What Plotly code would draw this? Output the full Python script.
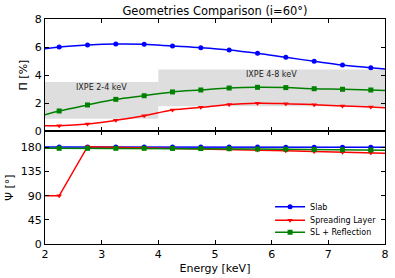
import plotly.graph_objects as go

# ---------------- data ----------------
energy_mid = [2.25, 2.75, 3.25, 3.75, 4.25, 4.75, 5.25, 5.75, 6.25, 6.75, 7.25, 7.75]
energy_edges = [2.0, 8.0]

# polarization degree [%]
slab_pi = [6.00, 6.14, 6.21, 6.19, 6.07, 5.95, 5.79, 5.55, 5.26, 4.98, 4.71, 4.52]
slab_pi_edges = [5.88, 4.43]
sl_pi = [0.38, 0.50, 0.76, 1.09, 1.50, 1.69, 1.90, 1.98, 1.95, 1.88, 1.79, 1.71]
sl_pi_edges = [0.38, 1.66]
slr_pi = [1.43, 1.86, 2.26, 2.52, 2.79, 2.93, 3.07, 3.12, 3.10, 3.02, 2.98, 2.93]
slr_pi_edges = [1.16, 2.90]

# polarization angle [deg]
slab_psi = [181.0, 181.0, 181.0, 181.0, 181.0, 180.9, 180.8, 180.8, 180.7, 180.6, 180.5, 180.5]
slab_psi_edges = [181.0, 180.5]
sl_psi = [90.0, 181.5, 180.5, 180.0, 179.0, 178.0, 177.0, 175.5, 174.0, 172.5, 171.0, 170.0]
sl_psi_edges = [90.0, 169.5]
slr_psi = [178.5, 178.5, 178.5, 178.5, 178.3, 178.0, 177.8, 177.2, 176.8, 176.3, 175.8, 175.3]
slr_psi_edges = [178.5, 175.0]
psi_err = [1.5, 3.0, 2.0, 2.0, 2.0, 2.0, 2.0, 2.5, 2.5, 3.0, 3.0, 3.0]

# IXPE sensitivity bands
band_names = ["IXPE 2-4 keV", "IXPE 4-8 keV"]
band_x0 = [2.0, 4.0]
band_x1 = [4.0, 8.0]
band_lo = [0.87, 1.77]
band_hi = [3.50, 4.40]
band_label_x = [3.0, 6.0]
band_label_y = [3.12, 4.07]

series_names = ["Slab", "Spreading Layer", "SL + Reflection"]
colors = ["#0000ff", "#ff0000", "#008000"]
symbols = ["circle", "triangle-down", "square"]
legend_ids = ["legend", "legend2", "legend3"]

pi_data = [(slab_pi, slab_pi_edges), (sl_pi, sl_pi_edges), (slr_pi, slr_pi_edges)]
psi_data = [(slab_psi, slab_psi_edges), (sl_psi, sl_psi_edges), (slr_psi, slr_psi_edges)]

x_ticks = [2, 3, 4, 5, 6, 7, 8]
pi_ticks = [0, 2, 4, 6, 8]
psi_ticks = [0, 45, 90, 135, 180]

FONT = "DejaVu Sans"

fig = go.Figure()

for name, col, sym, lg, (pv, pe), (sv, se) in zip(series_names, colors, symbols, legend_ids, pi_data, psi_data):
    xfull = [energy_edges[0]] + energy_mid + [energy_edges[1]]
    # top panel smooth curve
    fig.add_trace(go.Scatter(x=xfull, y=[pe[0]] + pv + [pe[1]], mode="lines",
                             line=dict(color=col, width=1.5, shape="spline", smoothing=1.0),
                             xaxis="x", yaxis="y", showlegend=False, hoverinfo="skip"))
    fig.add_trace(go.Scatter(x=energy_mid, y=pv, mode="markers",
                             marker=dict(color=col, symbol=sym, size=5),
                             xaxis="x", yaxis="y", showlegend=False))
    # bottom panel
    fig.add_trace(go.Scatter(x=xfull, y=[se[0]] + sv + [se[1]], mode="lines",
                             line=dict(color=col, width=1.5),
                             xaxis="x2", yaxis="y2", showlegend=False, hoverinfo="skip"))
    fig.add_trace(go.Scatter(x=energy_mid, y=sv, mode="markers",
                             marker=dict(color=col, symbol=sym, size=5),
                             error_y=dict(type="data", array=psi_err, color=col, thickness=1, width=0),
                             xaxis="x2", yaxis="y2", showlegend=False))
    # legend entry
    fig.add_trace(go.Scatter(x=[None], y=[None], mode="lines+markers", name=name,
                             line=dict(color=col, width=1.5),
                             marker=dict(color=col, symbol=sym, size=5),
                             xaxis="x2", yaxis="y2", legend=lg))

shapes = []
for x0, x1, lo, hi in zip(band_x0, band_x1, band_lo, band_hi):
    shapes.append(dict(type="rect", xref="x", yref="y", x0=x0, x1=x1, y0=lo, y1=hi,
                       fillcolor="rgba(200,200,200,0.6)", line=dict(width=0), layer="below"))

annotations = []
for nm, lx, ly in zip(band_names, band_label_x, band_label_y):
    annotations.append(dict(x=lx, y=ly, xref="x", yref="y", text=nm, showarrow=False,
                            font=dict(family=FONT, size=8, color="#222")))

split = 113 / 225

axis_common = dict(showgrid=False, zeroline=False, showline=True, linecolor="black", linewidth=1,
                   mirror="ticks", ticks="inside", ticklen=4, tickcolor="black", automargin=False,
                   tickfont=dict(family=FONT, size=11, color="black"))

legend_y = [(244 - 206.7) / 225, (244 - 220.3) / 225, (244 - 232.3) / 225]
legend_common = dict(x=0.662, xanchor="left", yanchor="middle", bgcolor="rgba(0,0,0,0)",
                     font=dict(family=FONT, size=8, color="black"), itemwidth=30,
                     borderwidth=0)

fig.update_layout(
    width=395, height=278,
    margin=dict(l=45, r=10, t=19, b=34),
    paper_bgcolor="white", plot_bgcolor="white",
    font=dict(family=FONT, color="black"),
    title=dict(text="Geometries Comparison (i=60°)", x=(45 + 385) / 2 / 395, xanchor="center",
               y=1 - 11 / 278, yanchor="middle", font=dict(family=FONT, size=11.5, color="black")),
    xaxis=dict(domain=[0, 1], range=[2, 8], anchor="y", tickvals=x_ticks, showticklabels=False, **axis_common),
    yaxis=dict(domain=[split, 1], range=[0, 8], anchor="x", tickvals=pi_ticks,
               title=dict(text="Π [%]", font=dict(family=FONT, size=11), standoff=4), **axis_common),
    xaxis2=dict(domain=[0, 1], range=[2, 8], anchor="y2", tickvals=x_ticks,
                title=dict(text="Energy [keV]", font=dict(family=FONT, size=11), standoff=4), **axis_common),
    yaxis2=dict(domain=[0, split], range=[0, 210.8], anchor="x2", tickvals=psi_ticks,
                title=dict(text="Ψ [°]", font=dict(family=FONT, size=11), standoff=4), **axis_common),
    shapes=shapes, annotations=annotations,
    legend=dict(y=legend_y[0], **legend_common),
    legend2=dict(y=legend_y[1], **legend_common),
    legend3=dict(y=legend_y[2], **legend_common),
)

fig.write_html("out.html", config={"displayModeBar": False},
               post_script="document.body.style.margin='0';document.body.style.padding='0';")
